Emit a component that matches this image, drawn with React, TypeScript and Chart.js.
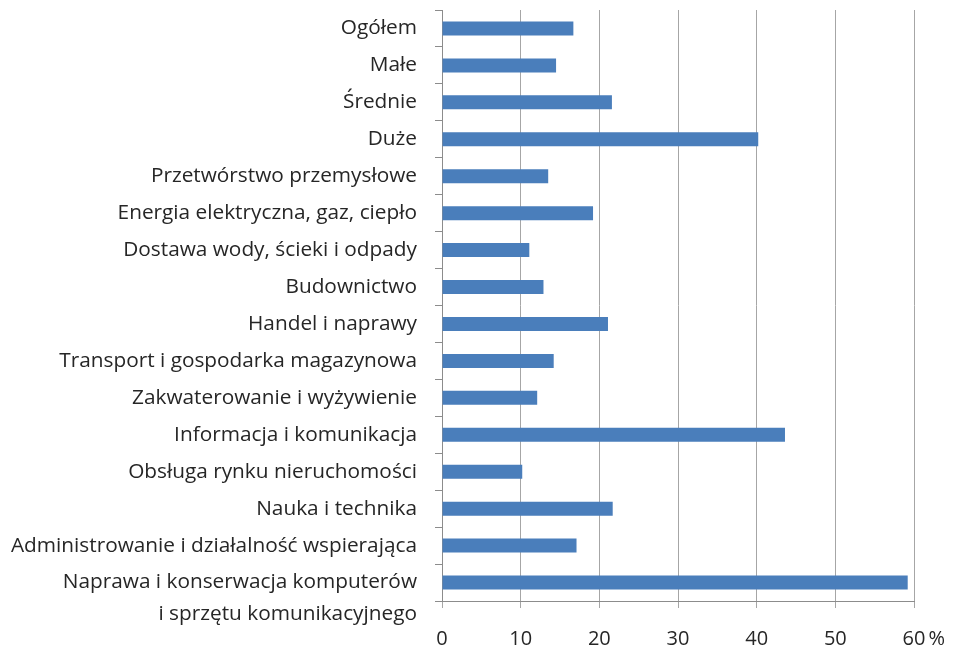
import React, { useEffect, useRef } from "react";
import { Chart, registerables } from "chart.js";

Chart.register(...registerables);

const categories: (string | string[])[] = [
  "Ogółem",
  "Małe",
  "Średnie",
  "Duże",
  "Przetwórstwo przemysłowe",
  "Energia elektryczna, gaz, ciepło",
  "Dostawa wody, ścieki i odpady",
  "Budownictwo",
  "Handel i naprawy",
  "Transport i gospodarka magazynowa",
  "Zakwaterowanie i wyżywienie",
  "Informacja i komunikacja",
  "Obsługa rynku nieruchomości",
  "Nauka i technika",
  "Administrowanie i działalność wspierająca",
  ["", "Naprawa i konserwacja komputerów", "i sprzętu komunikacyjnego"],
];

const values: number[] = [
  16.7, 14.5, 21.6, 40.2, 13.5, 19.2, 11.1, 12.9, 21.1, 14.2, 12.1, 43.6, 10.2,
  21.7, 17.1, 59.2,
];

const xTicks: number[] = [0, 10, 20, 30, 40, 50, 60];
const unitLabel = "%";

const FONT = "'Open Sans'";
const TEXT = "#262626";
const BAR = "#4a7ebb";
const GRID = "#a6a6a6";
const AXIS = "#8c8c8c";
const X_FONT_SIZE = 20;
const Y_FONT_SIZE = 20.8;
const X_PAD = 19;
const TICK_LEN = 7;

export default function App() {
  const ref = useRef<HTMLCanvasElement | null>(null);

  useEffect(() => {
    document.body.style.margin = "0";
    const canvas = ref.current;
    if (!canvas) return;

    const pctPlugin = {
      id: "pctPlugin",
      afterDraw(chart: any) {
        const x = chart.scales.x;
        const ctx = chart.ctx;
        ctx.save();
        ctx.font = `${X_FONT_SIZE}px ${FONT}`;
        ctx.fillStyle = TEXT;
        ctx.textBaseline = "middle";
        ctx.textAlign = "left";
        const last = xTicks[xTicks.length - 1];
        const px = x.getPixelForValue(last);
        const w = ctx.measureText(String(last)).width;
        const y = x.top + TICK_LEN + X_PAD + (X_FONT_SIZE * 1.2) / 2;
        ctx.fillText(unitLabel, px + w / 2 + 3, y);
        ctx.restore();
      },
    };

    const chart = new Chart(canvas, {
      type: "bar",
      data: {
        labels: categories as any,
        datasets: [
          {
            data: values,
            backgroundColor: BAR,
            borderWidth: 0,
            barPercentage: 0.38,
            categoryPercentage: 1,
          },
        ],
      },
      options: {
        indexAxis: "y",
        responsive: false,
        animation: false,
        layout: { padding: { top: 10, right: 46, left: 0, bottom: 0 } },
        plugins: {
          legend: { display: false },
          tooltip: { enabled: false },
        },
        scales: {
          x: {
            type: "linear",
            min: 0,
            max: 60,
            afterBuildTicks: (scale: any) => {
              scale.ticks = xTicks.map((v) => ({ value: v }));
            },
            afterFit: (scale: any) => {
              scale.height = 47;
              scale.paddingLeft = 0;
              scale.paddingRight = 0;
            },
            grid: {
              color: GRID,
              tickLength: TICK_LEN,
              drawTicks: true,
            },
            border: { display: true, color: AXIS },
            ticks: {
              maxRotation: 0,
              padding: X_PAD,
              color: TEXT,
              font: { family: FONT, size: X_FONT_SIZE, lineHeight: 1.2 },
            },
          },
          y: {
            type: "category",
            afterFit: (scale: any) => {
              scale.width = 442;
              scale.paddingTop = 0;
              scale.paddingBottom = 0;
            },
            grid: {
              drawOnChartArea: false,
              drawTicks: true,
              tickLength: TICK_LEN,
              color: AXIS,
              offset: true,
            },
            border: { display: true, color: AXIS },
            ticks: {
              padding: 18,
              color: TEXT,
              autoSkip: false,
              font: { family: FONT, size: Y_FONT_SIZE, lineHeight: 32 / Y_FONT_SIZE },
            },
          },
        },
      },
      plugins: [pctPlugin],
    });

    return () => chart.destroy();
  }, []);

  return (
    <div style={{ width: 960, height: 648 }}>
      <canvas ref={ref} width={960} height={648} style={{ display: "block" }} />
    </div>
  );
}
